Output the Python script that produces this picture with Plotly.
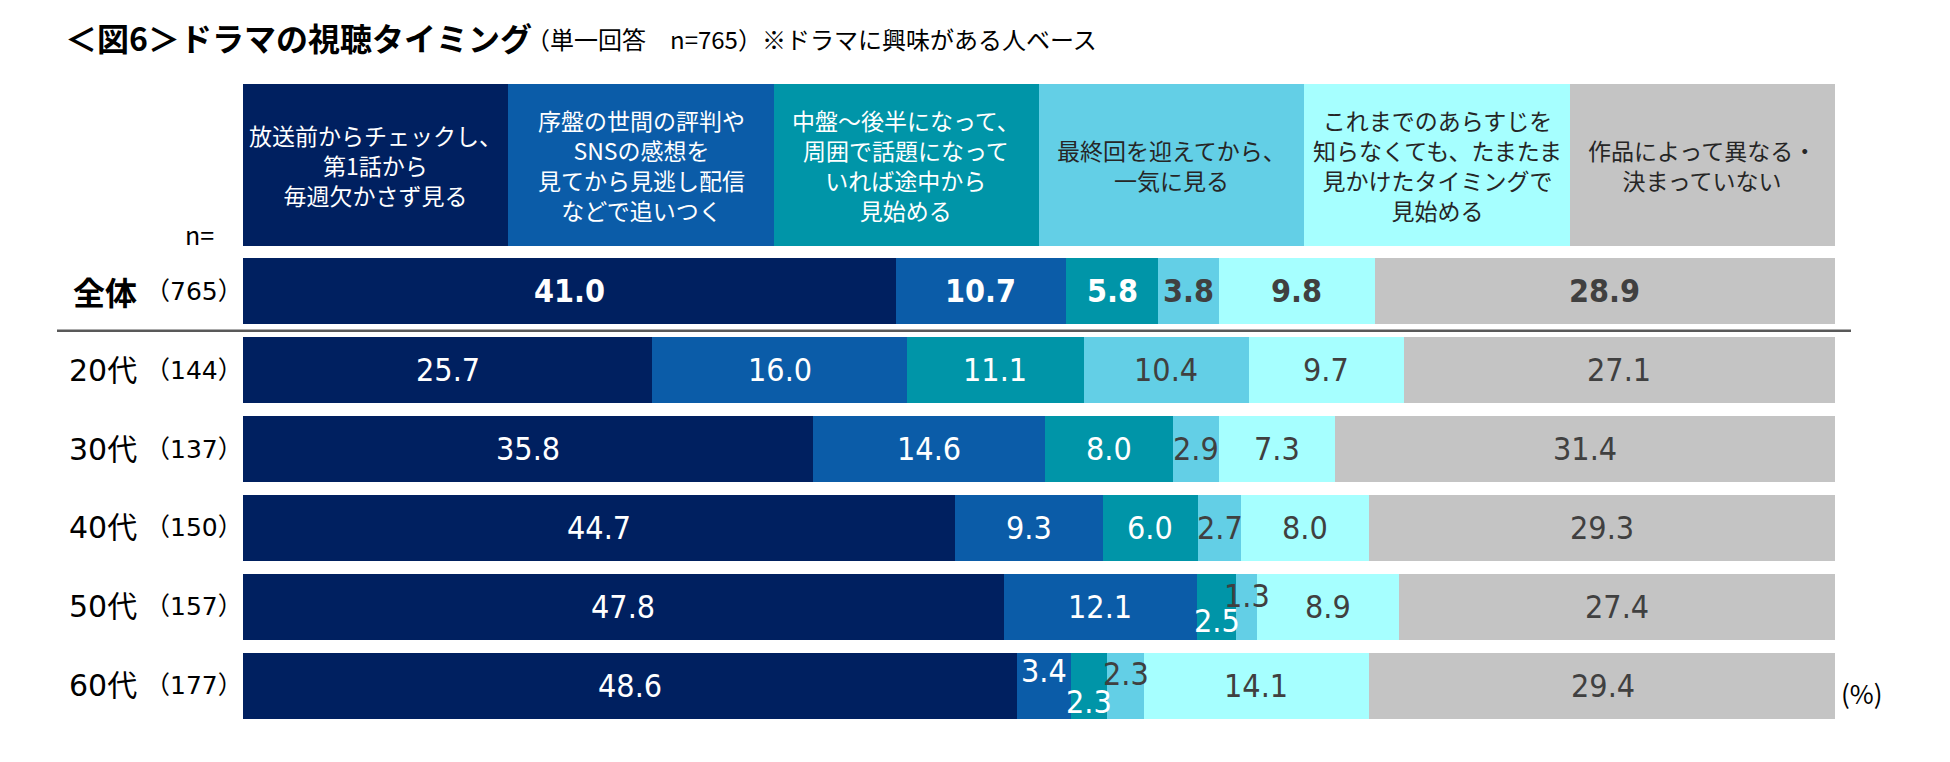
import numpy as np
import plotly.graph_objects as go

# header labels (answer choices)
categories = [
    "放送前からチェックし、<br>第1話から<br>毎週欠かさず見る",
    "序盤の世間の評判や<br>SNSの感想を<br>見てから見逃し配信<br>などで追いつく",
    "中盤～後半になって、<br>周囲で話題になって<br>いれば途中から<br>見始める",
    "最終回を迎えてから、<br>一気に見る",
    "これまでのあらすじを<br>知らなくても、たまたま<br>見かけたタイミングで<br>見始める",
    "作品によって異なる・<br>決まっていない",
]
rows = ["全体", "20代", "30代", "40代", "50代", "60代"]
n_counts = [765, 144, 137, 150, 157, 177]

# shares (%) per answer, one value per row
first_episode = [41.0, 25.7, 35.8, 44.7, 47.8, 48.6]
catch_up = [10.7, 16.0, 14.6, 9.3, 12.1, 3.4]
mid_way = [5.8, 11.1, 8.0, 6.0, 2.5, 2.3]
after_final = [3.8, 10.4, 2.9, 2.7, 1.3, 2.3]
by_chance = [9.8, 9.7, 7.3, 8.0, 8.9, 14.1]
depends = [28.9, 27.1, 31.4, 29.3, 27.4, 29.4]

series = [first_episode, catch_up, mid_way, after_final, by_chance, depends]

colors = ["#002060", "#0B5CA8", "#0095A8", "#63CFE6", "#A6FFFF", "#C4C4C4"]
value_colors = ["#FFFFFF", "#FFFFFF", "#FFFFFF", "#404040", "#404040", "#404040"]
header_colors = ["#FFFFFF", "#FFFFFF", "#FFFFFF", "#262626", "#262626", "#262626"]

# small labels that are moved up/down so they do not overlap (row, series): px
nudges = {(4, 2): -14, (4, 3): 11, (5, 1): 15, (5, 2): -16, (5, 3): 12}

W, H = 1950, 762
L, R, T, B = 243, 115, 76, 37
PW = W - L - R
PH = H - T - B


def px(x):
    return (x - L) / PW


def py(y):
    return 1 - (y - T) / PH


CJK = "Noto Sans CJK JP"
NUM = "DejaVu Sans Condensed, DejaVu Sans, Noto Sans CJK JP"

y_rows = np.arange(len(rows))
header_y = -1.603
values = np.array(series)
bases = np.vstack([np.zeros(len(rows)), np.cumsum(values, axis=0)[:-1]])
share = 100 / len(categories)

fig = go.Figure()
for i, cat in enumerate(categories):
    # header cell
    fig.add_trace(go.Bar(
        x=[share], y=[header_y], base=[i * share], orientation="h", width=2.053,
        marker=dict(color=colors[i], line_width=0), hoverinfo="skip",
    ))
    # data bars
    fig.add_trace(go.Bar(
        x=values[i], y=y_rows, base=bases[i], orientation="h", width=0.836,
        marker=dict(color=colors[i], line_width=0),
        name=cat.replace("<br>", ""),
    ))

annotations = []

# header texts
for i, cat in enumerate(categories):
    annotations.append(dict(
        x=i * share + share / 2, y=header_y, xref="x", yref="y", text=cat,
        showarrow=False, align="center",
        font=dict(family=CJK, size=23, color=header_colors[i]),
    ))

# value labels
for i in range(len(series)):
    for j in range(len(rows)):
        v = values[i][j]
        txt = f"{v:.1f}"
        if j == 0:
            txt = f"<b>{txt}</b>"
        annotations.append(dict(
            x=bases[i][j] + v / 2, y=j, xref="x", yref="y", text=txt,
            showarrow=False, yshift=nudges.get((j, i), 0),
            font=dict(family=NUM, size=32, color=value_colors[i]),
        ))

# row labels
for j, (name, n) in enumerate(zip(rows, n_counts)):
    if j == 0:
        annotations.append(dict(
            x=px(139), y=j, xref="paper", yref="y", text=f"<b>{name}</b>",
            xanchor="right", showarrow=False,
            font=dict(family=CJK, size=32, color="#000000"),
        ))
    else:
        annotations.append(dict(
            x=px(139), y=j, xref="paper", yref="y", text=name,
            xanchor="right", showarrow=False,
            font=dict(family="DejaVu Sans, Noto Sans CJK JP", size=30, color="#000000"),
        ))
    annotations.append(dict(
        x=px(245), y=j, xref="paper", yref="y", text=f"（{n}）",
        xanchor="right", showarrow=False,
        font=dict(family="DejaVu Sans, Noto Sans CJK JP", size=25, color="#000000"),
    ))

annotations += [
    dict(x=px(216), y=py(234), xref="paper", yref="paper", text="n=",
         xanchor="right", yanchor="middle", showarrow=False,
         font=dict(family=CJK, size=25, color="#000000")),
    dict(x=px(1839), y=5, xref="paper", yref="y", text="(%)", yshift=-7,
         xanchor="left", showarrow=False,
         font=dict(family=CJK, size=26, color="#000000")),
    dict(x=px(63), y=py(37), xref="paper", yref="paper",
         text="<b>＜図6＞ドラマの視聴タイミング</b>",
         xanchor="left", yanchor="middle", showarrow=False,
         font=dict(family=CJK, size=32, color="#000000")),
    dict(x=px(524), y=py(39), xref="paper", yref="paper",
         text="（単一回答　n=765）※ドラマに興味がある人ベース",
         xanchor="left", yanchor="middle", showarrow=False,
         font=dict(family=CJK, size=24, color="#000000")),
]

fig.add_shape(type="line", xref="paper", yref="y", x0=px(57), x1=px(1851),
              y0=0.5, y1=0.5, line=dict(color="#595959", width=2.5))

fig.update_layout(
    width=W, height=H,
    margin=dict(l=L, r=R, t=T, b=B, pad=0),
    barmode="overlay", bargap=0,
    plot_bgcolor="white", paper_bgcolor="white",
    showlegend=False,
    xaxis=dict(range=[0, 100], visible=False, fixedrange=True),
    yaxis=dict(range=[5.5, -2.73], visible=False, fixedrange=True),
    annotations=annotations,
    font=dict(family=CJK),
)

fig.write_html("out.html", config={"displayModeBar": False},
               post_script="document.body.style.margin='0';")
